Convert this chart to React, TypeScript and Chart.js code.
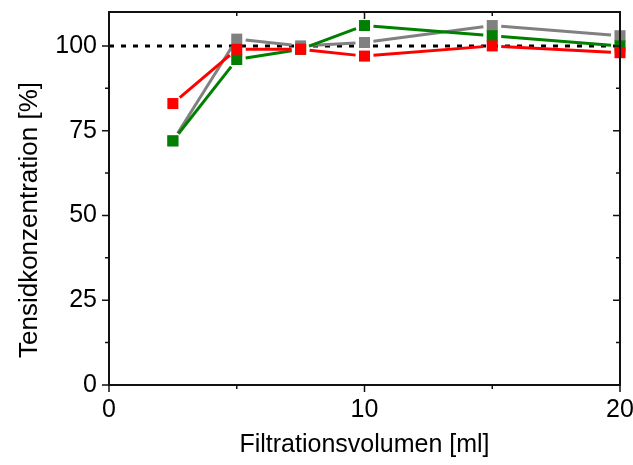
import React, { useEffect, useRef } from "react";
import { Chart, registerables } from "chart.js";

Chart.register(...registerables);

// ---- data ----
const volumes = [2.5, 5, 7.5, 10, 15, 20];
const redValues = [83, 99, 99, 97, 100, 98];
const greenValues = [72, 96, 99, 106, 103, 100];
const grayValues = [72, 102, 100, 101, 106, 103];
const referenceX = [0, 20];
const referenceY = [100, 100];
const xMajorTicks = [0, 10, 20];
const xMinorTicks = [5, 15];
const yMajorTicks = [0, 25, 50, 75, 100];
const yMinorTicks = [12.5, 37.5, 62.5, 87.5];
const xTitle = "Filtrationsvolumen [ml]";
const yTitle = "Tensidkonzentration [%]";

const FONT = "'Liberation Sans', Arial, sans-serif";

const gapLines = {
  id: "gapLines",
  beforeDatasetDraw(chart: any, args: any) {
    const ds: any = chart.data.datasets[args.index];
    if (!ds.gapLine) return;
    const pts = args.meta.data;
    const ctx = chart.ctx;
    const gap = 9;
    ctx.save();
    ctx.strokeStyle = ds.borderColor;
    ctx.lineWidth = 3;
    ctx.lineCap = "butt";
    for (let i = 0; i < pts.length - 1; i++) {
      const p0 = pts[i];
      const p1 = pts[i + 1];
      const dx = p1.x - p0.x;
      const dy = p1.y - p0.y;
      const len = Math.hypot(dx, dy);
      if (len <= 2 * gap) continue;
      const ux = dx / len;
      const uy = dy / len;
      ctx.beginPath();
      ctx.moveTo(p0.x + ux * gap, p0.y + uy * gap);
      ctx.lineTo(p1.x - ux * gap, p1.y - uy * gap);
      ctx.stroke();
    }
    ctx.restore();
  },
};

const frameTicks = {
  id: "frameTicks",
  afterDatasetsDraw(chart: any) {
    const { ctx, chartArea: a, scales } = chart;
    const xs = scales.x;
    const ys = scales.y;
    ctx.save();
    ctx.strokeStyle = "#111";
    ctx.lineWidth = 2;
    ctx.strokeRect(a.left, a.top, a.right - a.left, a.bottom - a.top);
    ctx.lineWidth = 1.5;
    const major = 7;
    const minor = 4;
    ctx.beginPath();
    const xt = (v: number, len: number) => {
      const px = xs.getPixelForValue(v);
      ctx.moveTo(px, a.bottom);
      ctx.lineTo(px, a.bottom + len);
      ctx.moveTo(px, a.top);
      ctx.lineTo(px, a.top + len);
    };
    const yt = (v: number, len: number) => {
      const py = ys.getPixelForValue(v);
      ctx.moveTo(a.left, py);
      ctx.lineTo(a.left - len, py);
      ctx.moveTo(a.right, py);
      ctx.lineTo(a.right - len, py);
    };
    xMajorTicks.forEach((v) => xt(v, major));
    xMinorTicks.forEach((v) => xt(v, minor));
    yMajorTicks.forEach((v) => yt(v, major));
    yMinorTicks.forEach((v) => yt(v, minor));
    ctx.stroke();
    ctx.restore();
  },
};

const axisTitles = {
  id: "axisTitles",
  afterDraw(chart: any) {
    const { ctx, chartArea: a } = chart;
    ctx.save();
    ctx.fillStyle = "#000";
    ctx.font = `25px ${FONT}`;
    ctx.textAlign = "center";
    ctx.textBaseline = "middle";
    ctx.fillText(xTitle, (a.left + a.right) / 2, 445);
    ctx.font = `26px ${FONT}`;
    ctx.translate(30, 220);
    ctx.rotate(-Math.PI / 2);
    ctx.fillText(yTitle, 0, 0);
    ctx.restore();
  },
};

function makeSeries(values: number[]) {
  return volumes.map((x, i) => ({ x, y: values[i] }));
}

export default function App() {
  const ref = useRef<HTMLCanvasElement | null>(null);
  useEffect(() => {
    if (!ref.current) return;
    const pointDefaults = {
      pointStyle: "rect",
      pointRadius: 7.8,
      pointHoverRadius: 7.8,
      pointBorderWidth: 0,
      showLine: false,
      gapLine: true,
      clip: false,
    };
    const chart = new Chart(ref.current, {
      type: "scatter",
      data: {
        datasets: [
          {
            label: "rot",
            data: makeSeries(redValues),
            borderColor: "#ff0000",
            backgroundColor: "#ff0000",
            ...pointDefaults,
          } as any,
          {
            label: "grün",
            data: makeSeries(greenValues),
            borderColor: "#008000",
            backgroundColor: "#008000",
            ...pointDefaults,
          } as any,
          {
            label: "grau",
            data: makeSeries(grayValues),
            borderColor: "#808080",
            backgroundColor: "#808080",
            ...pointDefaults,
          } as any,
          {
            label: "100 %",
            data: referenceX.map((x, i) => ({ x, y: referenceY[i] })),
            borderColor: "#000",
            backgroundColor: "#000",
            borderWidth: 3,
            borderDash: [5, 7],
            pointRadius: 0,
            showLine: true,
          } as any,
        ],
      },
      options: {
        animation: false,
        responsive: false,
        devicePixelRatio: 1,
        layout: { padding: { top: 12, right: 13, left: 0, bottom: 0 } },
        plugins: { legend: { display: false }, tooltip: { enabled: false } },
        scales: {
          x: {
            type: "linear",
            min: 0,
            max: 20,
            afterFit: (s: any) => {
              s.height = 80;
              s.paddingLeft = 0;
              s.paddingRight = 0;
            },
            grid: { display: false, drawTicks: false },
            border: { display: false },
            ticks: {
              stepSize: 10,
              includeBounds: false,
              padding: 10,
              color: "#000",
              font: { size: 25, family: FONT },
              maxRotation: 0,
            },
          },
          y: {
            type: "linear",
            min: 0,
            max: 110,
            afterFit: (s: any) => {
              s.width = 109;
              s.paddingTop = 0;
              s.paddingBottom = 0;
            },
            grid: { display: false, drawTicks: false },
            border: { display: false },
            ticks: {
              stepSize: 25,
              includeBounds: false,
              padding: 12,
              color: "#000",
              font: { size: 25, family: FONT },
            },
          },
        },
      } as any,
      plugins: [gapLines, frameTicks, axisTitles],
    });
    return () => chart.destroy();
  }, []);
  return (
    <div style={{ position: "fixed", left: 0, top: 0, width: 633, height: 465, background: "#fff" }}>
      <canvas ref={ref} width={633} height={465} style={{ width: 633, height: 465 }} />
    </div>
  );
}
